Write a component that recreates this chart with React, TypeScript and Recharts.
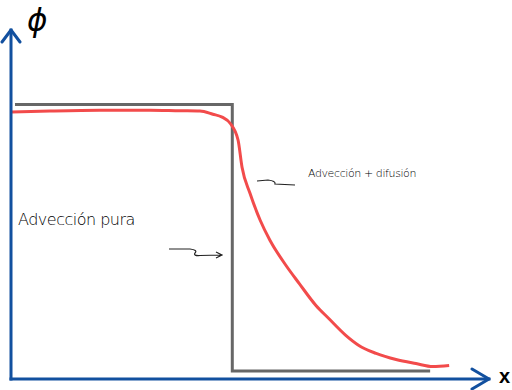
import { ComposedChart, Line, XAxis, YAxis } from "recharts";

// posición x (unidades arbitrarias) y valor de phi de cada curva
const pureX = [0.09, 5, 5, 9.47];
const purePhi = [1, 1, 0, 0];

const diffX = [0.02, 0.88, 2.01, 3.14, 3.82, 4.27, 4.56, 4.77, 4.95, 5.13, 5.22, 5.4, 5.63, 5.85, 6.21, 6.51, 6.89, 7.18, 7.57, 7.86, 8.25, 8.7, 9.15, 9.53, 9.9];
const diffPhi = [0.972, 0.976, 0.979, 0.979, 0.977, 0.976, 0.964, 0.953, 0.93, 0.867, 0.765, 0.667, 0.566, 0.491, 0.397, 0.329, 0.246, 0.197, 0.133, 0.096, 0.066, 0.043, 0.028, 0.017, 0.021];

const xLabel = "x";
const yLabel = "ϕ";
const pureLabel = "Advección pura";
const diffLabel = "Advección + difusión";

const pureData = pureX.map((x, i) => ({ x, phi: purePhi[i] }));
const diffData = diffX.map((x, i) => ({ x, phi: diffPhi[i] }));

const blue = "#12509f";
const hand = { position: "absolute" as const, fontFamily: "'DejaVu Sans', sans-serif", fontWeight: 200, color: "#000", whiteSpace: "nowrap" as const, lineHeight: 1 };

export default function App() {
  return (
    <div style={{ position: "absolute", left: 0, top: 0, width: 512, height: 390, background: "#fff", overflow: "hidden" }}>
      <svg width={0} height={0} style={{ position: "absolute" }}>
        <defs>
          <marker id="arrX" markerUnits="userSpaceOnUse" markerWidth={24} markerHeight={24} refX={18} refY={11} orient="auto" overflow="visible">
            <path d="M1,1 L18,11 L1,21" fill="none" stroke={blue} strokeWidth={3} strokeLinecap="round" strokeLinejoin="round" />
          </marker>
          <marker id="arrY" markerUnits="userSpaceOnUse" markerWidth={24} markerHeight={24} refX={13} refY={10} orient="auto-start-reverse" overflow="visible">
            <path d="M1,1 L13,10 L1,19" fill="none" stroke={blue} strokeWidth={3} strokeLinecap="round" strokeLinejoin="round" />
          </marker>
        </defs>
      </svg>
      <ComposedChart width={512} height={390} margin={{ top: 30, left: 10, right: 23, bottom: 10 }}>
        <XAxis
          type="number"
          dataKey="x"
          domain={[0, 10.8]}
          height={1}
          tick={false}
          tickLine={false}
          axisLine={{ stroke: blue, strokeWidth: 3, strokeLinecap: "square", markerEnd: "url(#arrX)" }}
        />
        <YAxis
          type="number"
          dataKey="phi"
          domain={[-0.03, 1.28]}
          width={1}
          tick={false}
          tickLine={false}
          axisLine={{ stroke: blue, strokeWidth: 3, strokeLinecap: "square", markerStart: "url(#arrY)" }}
        />
        <Line data={pureData} dataKey="phi" type="linear" stroke="#676767" strokeWidth={3} dot={false} isAnimationActive={false} />
        <Line data={diffData} dataKey="phi" type="monotone" stroke="#f24b4b" strokeWidth={3} dot={false} isAnimationActive={false} />
      </ComposedChart>
      <svg width={512} height={390} style={{ position: "absolute", left: 0, top: 0, pointerEvents: "none" }}>
        <path d="M169,249 L190,249 Q198,250 195,253 Q193,256 200,255.5 L222,255 M216,252 L222,255 L216,258" fill="none" stroke="#222" strokeWidth={1.2} />
        <path d="M257,181 L268,180 Q276,181 275,184 L295,185" fill="none" stroke="#222" strokeWidth={1.2} />
      </svg>
      <span style={{ ...hand, left: 27, top: 0, fontSize: 31, lineHeight: "40px", fontWeight: 400, fontStyle: "italic" }}>{yLabel}</span>
      <span style={{ ...hand, left: 499, top: 366, fontSize: 20, fontWeight: 700, fontFamily: "'Liberation Sans', sans-serif" }}>{xLabel}</span>
      <span style={{ ...hand, left: 18, top: 212, fontSize: 16, letterSpacing: -0.5 }}>{pureLabel}</span>
      <span style={{ ...hand, left: 308, top: 168, fontSize: 11, letterSpacing: -0.4 }}>{diffLabel}</span>
    </div>
  );
}
